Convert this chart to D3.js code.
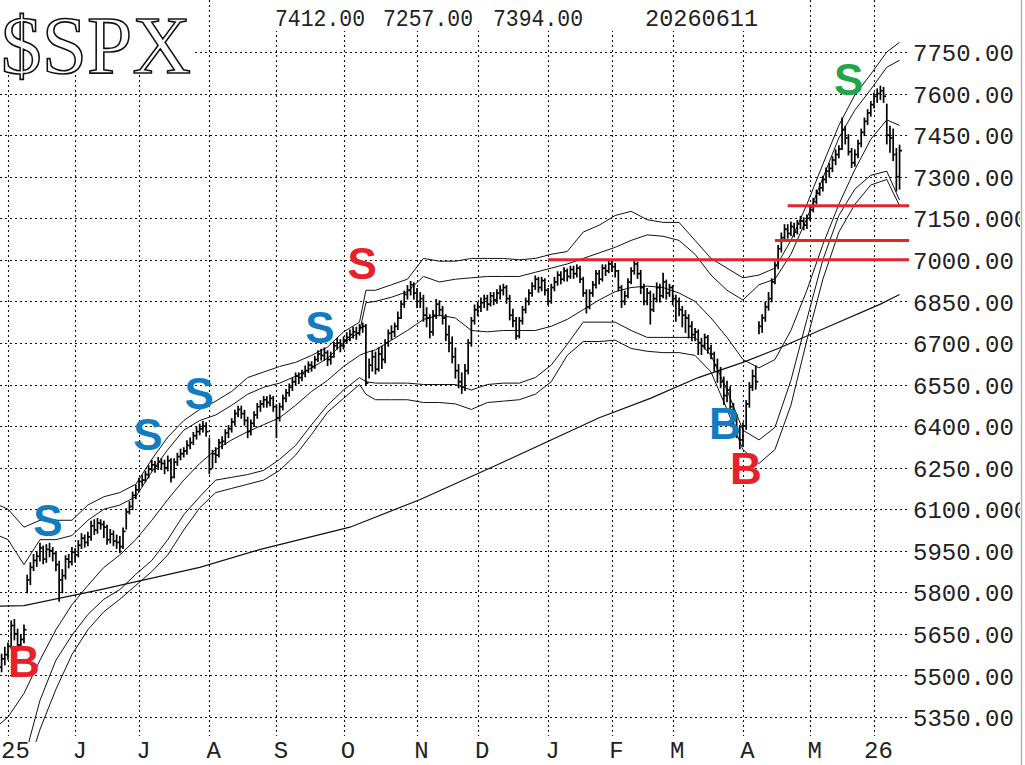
<!DOCTYPE html>
<html>
<head>
<meta charset="utf-8">
<script src="https://cdn.jsdelivr.net/npm/d3@7"></script>
<style>
  body { margin: 0; background: #fff; }
  svg { display: block; }
</style>
</head>
<body>
<svg id="chart" width="1025" height="765"></svg>
<script>
// daily bars, trading-day index starts at firstIdx (0 = 1 May 2025)
var firstIdx = -3;
var lastDate = '20260611';

var barHigh = [
  5545,5575,5600,5615,5695,5700,5665,5645,5680,5860,
  5905,5935,5945,5975,5965,5970,5975,5960,5945,5910,
  5880,5930,5935,5960,5955,5985,6010,6005,6015,6055,
  6060,6065,6060,6055,6040,6025,6020,6005,6000,6030,
  6100,6125,6160,6185,6210,6220,6235,6255,6275,6270,
  6285,6280,6275,6290,6280,6280,6300,6315,6320,6345,
  6355,6375,6395,6405,6415,6410,6355,6310,6320,6350,
  6360,6385,6400,6425,6455,6470,6470,6455,6430,6420,
  6450,6480,6490,6505,6505,6510,6505,6475,6480,6510,
  6530,6550,6570,6590,6590,6600,6615,6630,6630,6650,
  6670,6675,6680,6670,6665,6700,6715,6710,6720,6735,
  6745,6755,6755,6765,6770,6765,6640,6670,6665,6680,
  6685,6710,6745,6760,6770,6810,6850,6885,6905,6920,
  6915,6895,6880,6870,6825,6800,6815,6855,6850,6830,
  6800,6760,6720,6680,6620,6590,6620,6710,6790,6835,
  6845,6860,6870,6870,6880,6880,6890,6905,6910,6905,
  6870,6820,6790,6790,6830,6860,6890,6915,6940,6935,
  6935,6930,6895,6910,6935,6955,6955,6970,6965,6975,
  6975,6980,6975,6935,6890,6890,6920,6960,6960,6980,
  6980,6995,6995,6985,6960,6905,6885,6930,6970,6995,
  6990,6960,6910,6895,6885,6875,6915,6910,6950,6925,
  6910,6905,6870,6860,6830,6815,6800,6775,6750,6745,
  6715,6730,6725,6690,6665,6640,6610,6575,6560,6540,
  6480,6440,6400,6410,6490,6555,6600,6615,6775,6800,
  6845,6880,6930,6990,7050,7095,7125,7125,7135,7130,
  7140,7155,7150,7160,7190,7220,7250,7275,7300,7330,
  7345,7370,7395,7410,7510,7480,7450,7400,7395,7430,
  7470,7510,7540,7570,7600,7615,7625,7620,7560,7480,
  7470,7400,7412
];
var barLow = [
  5470,5515,5540,5560,5600,5630,5590,5600,5620,5800,
  5830,5880,5895,5915,5905,5910,5930,5915,5880,5770,
  5800,5850,5890,5900,5910,5930,5960,5965,5970,5990,
  6010,6015,6030,6000,5975,5980,5970,5960,5945,5960,
  6030,6085,6100,6140,6165,6185,6200,6215,6240,6235,
  6245,6245,6230,6240,6200,6215,6260,6280,6290,6300,
  6320,6335,6355,6370,6380,6365,6230,6250,6270,6290,
  6320,6335,6360,6380,6405,6435,6430,6405,6360,6370,
  6400,6430,6455,6470,6470,6475,6455,6360,6420,6460,
  6490,6510,6530,6550,6555,6565,6580,6595,6600,6610,
  6635,6640,6640,6620,6625,6650,6680,6670,6680,6700,
  6710,6720,6715,6730,6740,6550,6575,6600,6590,6600,
  6610,6630,6690,6715,6725,6750,6790,6830,6860,6875,
  6860,6830,6830,6780,6760,6720,6730,6790,6800,6770,
  6710,6670,6630,6575,6540,6520,6530,6590,6690,6770,
  6800,6815,6830,6820,6835,6840,6845,6860,6875,6845,
  6785,6760,6715,6720,6770,6810,6840,6870,6895,6885,
  6890,6875,6840,6845,6890,6910,6915,6925,6925,6935,
  6935,6940,6920,6870,6810,6825,6870,6900,6915,6925,
  6945,6955,6960,6940,6890,6830,6840,6865,6915,6950,
  6935,6880,6840,6840,6770,6815,6850,6850,6865,6860,
  6870,6840,6780,6800,6760,6740,6720,6710,6710,6660,
  6660,6680,6665,6645,6600,6560,6540,6480,6490,6455,
  6400,6360,6320,6330,6390,6470,6530,6535,6735,6740,
  6780,6820,6850,6915,6970,7030,7070,7080,7090,7085,
  7095,7115,7110,7115,7145,7175,7205,7235,7250,7280,
  7300,7320,7345,7370,7400,7420,7380,7335,7340,7370,
  7410,7450,7490,7520,7550,7570,7580,7570,7420,7390,
  7360,7250,7257
];
var barClose = [
  5530,5560,5575,5605,5680,5650,5610,5630,5665,5845,
  5890,5915,5930,5960,5920,5955,5950,5940,5900,5845,
  5860,5920,5910,5945,5935,5970,5995,5980,6000,6040,
  6025,6050,6045,6035,5990,6010,5985,5980,5965,6020,
  6090,6110,6150,6170,6200,6205,6225,6245,6260,6255,
  6270,6265,6250,6275,6215,6270,6290,6300,6310,6330,
  6340,6365,6380,6390,6400,6380,6245,6300,6295,6340,
  6345,6375,6390,6415,6445,6460,6445,6420,6380,6410,
  6440,6470,6480,6495,6485,6500,6470,6430,6470,6500,
  6520,6540,6560,6580,6575,6590,6600,6620,6615,6640,
  6660,6655,6665,6640,6650,6690,6700,6690,6710,6720,
  6730,6740,6735,6755,6760,6555,6620,6650,6605,6660,
  6640,6700,6735,6740,6760,6790,6840,6875,6890,6910,
  6880,6850,6860,6800,6790,6740,6800,6840,6820,6790,
  6730,6700,6650,6600,6560,6540,6600,6700,6780,6820,
  6830,6845,6860,6840,6870,6855,6880,6890,6900,6860,
  6800,6780,6725,6780,6820,6850,6880,6905,6930,6900,
  6925,6890,6850,6900,6920,6945,6930,6960,6940,6965,
  6950,6970,6930,6880,6830,6880,6910,6950,6930,6970,
  6960,6985,6975,6960,6900,6850,6870,6920,6960,6985,
  6950,6900,6850,6880,6820,6860,6900,6870,6920,6880,
  6900,6860,6850,6820,6800,6790,6760,6730,6740,6700,
  6690,6720,6680,6660,6620,6600,6560,6510,6530,6470,
  6420,6380,6350,6400,6480,6540,6580,6560,6760,6790,
  6830,6860,6920,6980,7040,7080,7110,7095,7120,7100,
  7130,7140,7125,7150,7180,7210,7240,7260,7290,7320,
  7330,7360,7380,7400,7470,7440,7390,7350,7380,7420,
  7460,7500,7530,7560,7590,7600,7610,7590,7450,7440,
  7380,7300,7394
];

// 20-day average and the two pairs of bands, read at these trading days
var bandIdx = [-3,0,5,10,15,20,25,30,35,40,45,50,55,60,65,70,75,80,85,90,95,100,105,110,112,
  115,120,125,130,135,140,145,150,155,160,165,170,175,180,185,190,195,200,205,210,215,220,225,
  230,235,240,245,250,255,260,265,270,275,279];
var ma20 = [5320,5350,5435,5555,5665,5755,5825,5890,5935,5990,6060,6135,6205,6265,6315,6350,6380,6405,6430,6475,6525,6565,6615,6655,6665,
  6675,6710,6745,6785,6800,6790,6745,6740,6745,6745,6745,6760,6785,6820,6855,6885,6900,6905,6900,6880,6850,6790,6720,
  6640,6610,6640,6745,6890,7055,7200,7325,7435,7505,7485];
var upper4 = [6115,6100,6035,6060,6060,6060,6115,6145,6160,6190,6280,6360,6420,6460,6490,6525,6575,6595,6615,6630,6655,6685,6740,6775,6890,
  6890,6910,6930,7005,6995,6995,7005,7005,7005,7000,7005,7020,7030,7100,7125,7160,7175,7145,7135,7135,7070,7005,6970,
  6935,6945,6970,7070,7200,7345,7485,7595,7670,7750,7785];
var upper3 = [6005,5990,5900,5990,5990,6005,6060,6100,6115,6145,6235,6315,6385,6420,6440,6475,6515,6540,6555,6580,6610,6645,6700,6740,6845,
  6850,6865,6885,6940,6920,6930,6935,6940,6940,6940,6955,6970,6985,7005,7025,7045,7070,7090,7085,7070,7020,6945,6890,
  6855,6910,6930,7020,7150,7295,7440,7540,7615,7695,7720];
var lower3 = [5050,5085,5195,5410,5555,5645,5720,5775,5810,5865,5915,5990,6080,6145,6205,6215,6225,6240,6280,6330,6405,6475,6530,6575,6560,
  6555,6555,6555,6550,6550,6550,6530,6550,6555,6555,6575,6620,6695,6775,6775,6775,6745,6720,6720,6720,6720,6655,6530,
  6385,6350,6395,6565,6785,7000,7160,7255,7305,7320,7215];
var lower4 = [4940,4980,5125,5305,5450,5575,5665,5730,5775,5825,5875,5935,6025,6105,6160,6175,6190,6205,6240,6295,6370,6450,6500,6550,6515,
  6495,6495,6495,6485,6485,6480,6460,6485,6490,6495,6515,6560,6655,6705,6705,6710,6680,6670,6665,6665,6655,6595,6460,
  6315,6265,6315,6475,6710,6930,7100,7200,7270,7290,7195];

// 200-day average
var ma200Idx = [-3,5,29,60,79,107,129,154,185,201,216,230,241,257,273,279];
var ma200 = [5750,5752,5810,5890,5955,6035,6135,6265,6430,6500,6575,6630,6680,6760,6840,6875];

// red support lines
var supportLevel = [7195,7070,7000];
var supportFrom = [244,240,169];
var supportTo = 282;

// buy / sell marks
var signalText = ['B','S','S','S','S','S','B','B','S'];
var signalIdx = [5,12.5,43.8,59.8,97.6,110.8,224.3,230.9,263.1];
var signalPrice = [5495,6005,6315,6460,6700,6930,6355,6190,7595];
var signalColor = ['#e8202a','#127cc1','#127cc1','#127cc1','#127cc1','#e8202a','#127cc1','#e8202a','#20a64a'];

var monthIdx = [0,21,41,63,84,105,128,147,169,189,208,230,251,271];
var monthLabels = ['25','J','J','A','S','O','N','D','J','F','M','A','M','26'];

var priceTicks = [7750,7600,7450,7300,7150,7000,6850,6700,6550,6400,6250,6100,5950,5800,5650,5500,5350];
var priceTickLabels = ['7750.00','7600.00','7450.00','7300.00','7150.000','7000.00','6850.00','6700.00',
  '6550.00','6400.00','6250.00','6100.000','5950.00','5800.00','5650.00','5500.00','5350.00'];

var svg = d3.select('#chart');
var monoFont = '"Liberation Mono", "DejaVu Sans Mono", monospace';

var x = d3.scaleLinear().domain([0, 271]).range([8, 874]);
var y = d3.scaleLinear().domain([5350, 7750]).range([717, 52]);

function crisp(v) { return Math.round(v) + 0.5; }

// dotted grid
var grid = svg.append('g')
  .attr('stroke', '#111')
  .attr('stroke-width', 1.1)
  .attr('stroke-dasharray', '2,3');
grid.selectAll('.hgrid').data(priceTicks).enter().append('line')
  .attr('x1', 0).attr('x2', 908)
  .attr('y1', function(d) { return crisp(y(d)); })
  .attr('y2', function(d) { return crisp(y(d)); });
grid.selectAll('.vgrid').data(monthIdx).enter().append('line')
  .attr('y1', 0).attr('y2', 736)
  .attr('x1', function(d) { return crisp(x(d)); })
  .attr('x2', function(d) { return crisp(x(d)); });

svg.append('clipPath').attr('id', 'plotClip')
  .append('rect').attr('x', 0).attr('y', 0).attr('width', 909).attr('height', 742);

var plot = svg.append('g').attr('clip-path', 'url(#plotClip)');

var line = d3.line()
  .x(function(d) { return x(d[0]); })
  .y(function(d) { return y(d[1]); });

function zipIdx(idx, vals) {
  return idx.map(function(d, i) { return [d, vals[i]]; });
}

[ma20, upper4, upper3, lower3, lower4].forEach(function(vals) {
  plot.append('path')
    .datum(zipIdx(bandIdx, vals))
    .attr('d', line)
    .attr('fill', 'none')
    .attr('stroke', '#111')
    .attr('stroke-width', 1);
});

plot.append('path')
  .datum(zipIdx(ma200Idx, ma200))
  .attr('d', line)
  .attr('fill', 'none')
  .attr('stroke', '#111')
  .attr('stroke-width', 1.2);

// price bars
var bars = [];
for (var i = 0; i < barClose.length; i++) {
  bars.push({idx: firstIdx + i, hi: barHigh[i], lo: barLow[i], cl: barClose[i]});
}
var barG = plot.append('g').attr('stroke', '#000').attr('stroke-width', 1.7);
barG.selectAll('.bar').data(bars).enter().append('line')
  .attr('x1', function(d) { return x(d.idx); })
  .attr('x2', function(d) { return x(d.idx); })
  .attr('y1', function(d) { return y(d.hi) - 1; })
  .attr('y2', function(d) { return y(d.lo) + 1; });
barG.selectAll('.tick').data(bars).enter().append('line')
  .attr('x1', function(d) { return x(d.idx); })
  .attr('x2', function(d) { return x(d.idx) + 2.5; })
  .attr('y1', function(d) { return y(d.cl); })
  .attr('y2', function(d) { return y(d.cl); });

// support lines
svg.append('g').selectAll('line').data(supportLevel).enter().append('line')
  .attr('x1', function(d, i) { return x(supportFrom[i]); })
  .attr('x2', x(supportTo))
  .attr('y1', function(d) { return y(d); })
  .attr('y2', function(d) { return y(d); })
  .attr('stroke', '#e0252b')
  .attr('stroke-width', 3);

// signals
svg.append('g').selectAll('text').data(signalText).enter().append('text')
  .attr('x', function(d, i) { return x(signalIdx[i]); })
  .attr('y', function(d, i) { return y(signalPrice[i]); })
  .attr('text-anchor', 'middle')
  .attr('font-family', '"Liberation Sans", Arial, sans-serif')
  .attr('font-weight', 'bold')
  .attr('font-size', 44)
  .attr('fill', function(d, i) { return signalColor[i]; })
  .text(function(d) { return d; });

// title
svg.append('rect').attr('x', 0).attr('y', 0).attr('width', 194).attr('height', 74).attr('fill', '#fff');
svg.append('text')
  .attr('x', 1).attr('y', 73)
  .attr('font-family', '"Liberation Serif", "DejaVu Serif", serif')
  .attr('font-size', 82)
  .attr('textLength', 190)
  .attr('lengthAdjust', 'spacingAndGlyphs')
  .attr('fill', '#fff')
  .attr('stroke', '#111')
  .attr('stroke-width', 1.6)
  .text('$SPX');

// header: last bar high, low, close and date
var last = barClose.length - 1;
var header = [barHigh[last].toFixed(2), barLow[last].toFixed(2), barClose[last].toFixed(2), lastDate];
var headerX = [275, 383, 493, 645];
var headerW = [90, 90, 90, 113];
svg.append('rect').attr('x', 268).attr('y', 0).attr('width', 498).attr('height', 31).attr('fill', '#fff');
svg.append('g').selectAll('text').data(header).enter().append('text')
  .attr('x', function(d, i) { return headerX[i]; })
  .attr('y', 26)
  .attr('font-family', monoFont)
  .attr('font-size', 24)
  .attr('fill', '#222')
  .attr('textLength', function(d, i) { return headerW[i]; })
  .attr('lengthAdjust', 'spacingAndGlyphs')
  .text(function(d) { return d; });

// price axis
var yAxis = d3.axisRight(y)
  .tickValues(priceTicks)
  .tickFormat(function(d, i) { return priceTickLabels[i]; })
  .tickSize(0).tickPadding(0);
var yg = svg.append('g').attr('transform', 'translate(913,0)').call(yAxis);
yg.select('.domain').remove();
yg.selectAll('text')
  .attr('font-family', monoFont)
  .attr('font-size', 24)
  .attr('fill', '#222')
  .attr('dy', '0.36em');

// month axis
var xAxis = d3.axisBottom(x)
  .tickValues(monthIdx)
  .tickFormat(function(d, i) { return monthLabels[i]; })
  .tickSize(0).tickPadding(0);
var xg = svg.append('g').attr('transform', 'translate(4,741)').call(xAxis);
xg.select('.domain').remove();
xg.selectAll('text')
  .attr('font-family', monoFont)
  .attr('font-size', 24)
  .attr('fill', '#222')
  .attr('dx', function(d, i) { return i === 0 ? 3 : 0; });

// right frame
svg.append('rect').attr('x', 1020).attr('y', 0).attr('width', 5).attr('height', 765).attr('fill', '#fff');
svg.append('line').attr('x1', 1021.5).attr('x2', 1021.5).attr('y1', 0).attr('y2', 765)
  .attr('stroke', '#b5b5b5').attr('stroke-width', 1.5);
</script>
</body>
</html>
